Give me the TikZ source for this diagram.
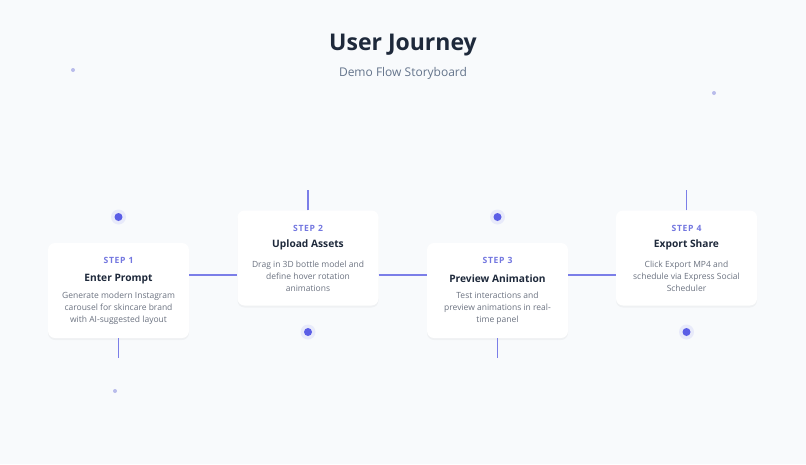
\documentclass[tikz,border=0pt]{standalone}
\usepackage{fontspec}
\setmainfont{Open Sans}
\usetikzlibrary{positioning,shadows}
\definecolor{pagebg}{HTML}{F8FAFC}
\definecolor{inkdark}{HTML}{1E293B}
\definecolor{inkgray}{HTML}{6B7280}
\definecolor{subgray}{HTML}{64748B}
\definecolor{accent}{HTML}{6366F1}
\definecolor{steptxt}{HTML}{7377E0}
\definecolor{linecol}{HTML}{7B7EE8}
\definecolor{dotcol}{HTML}{5B5EE6}
\definecolor{faintdot}{HTML}{B9BCEB}

\begin{document}
\begin{tikzpicture}[x=1pt,y=-1pt,
  card/.style = {draw=none,fill=white,rounded corners=7pt,minimum width=141pt,
    minimum height=95pt,inner sep=0pt,
    drop shadow={opacity=0.07,shadow xshift=0pt,shadow yshift=-2pt}},
  steplbl/.style = {text=steptxt,font=\fontsize{8.6}{10}\selectfont\bfseries\addfontfeature{LetterSpace=8}},
  cardttl/.style = {text=inkdark,font=\fontsize{10.2}{12}\selectfont\bfseries},
  carddesc/.style = {text=inkgray,align=center,font=\fontsize{8.5}{12}\selectfont},
  link/.style = {draw=linecol,line width=1.6pt},
  dot/.style = {circle,fill=dotcol,minimum size=8pt,inner sep=0pt},
  glow/.style = {circle,fill=accent,opacity=0.10,minimum size=15pt,inner sep=0pt},
  speck/.style = {circle,fill=faintdot,minimum size=4pt,inner sep=0pt}]
  \useasboundingbox[fill=pagebg] (0,0) rectangle (806,464);

  % heading
  \node[text=inkdark,font=\fontsize{23}{27}\selectfont\bfseries] (title) at (403,45) {User Journey};
  \node[text=subgray,font=\fontsize{12}{14}\selectfont] (subtitle) at (403,73) {Demo Flow Storyboard};

  % background specks
  \node[speck] (s1) at (73,70) {};
  \node[speck] (s2) at (714,93) {};
  \node[speck] (s3) at (115,391) {};

  % cards
  \node[card] (c1) at (118.5,290.5) {};
  \node[card] (c2) at (308,258) {};
  \node[card] (c3) at (497.5,290.5) {};
  \node[card] (c4) at (686.5,258) {};

  % connectors between the cards
  \coordinate (mid) at (0,275);
  \draw[link] (c1.east |- mid) -- (c2.west |- mid);
  \draw[link] (c2.east |- mid) -- (c3.west |- mid);
  \draw[link] (c3.east |- mid) -- (c4.west |- mid);

  % stubs
  \coordinate (t1) at ([yshift=-20pt]c1.south);
  \coordinate (t2) at ([yshift=20pt]c2.north);
  \coordinate (t3) at ([yshift=-20pt]c3.south);
  \coordinate (t4) at ([yshift=20pt]c4.north);
  \draw[link] (c1.south) -- (t1);
  \draw[link] (c2.north) -- (t2);
  \draw[link] (c3.south) -- (t3);
  \draw[link] (c4.north) -- (t4);

  % dots
  \node[glow] at (118.5,217) {};
  \node[dot] (d1) at (118.5,217) {};
  \node[glow] at (308,332) {};
  \node[dot] (d2) at (308,332) {};
  \node[glow] at (497.5,217) {};
  \node[dot] (d3) at (497.5,217) {};
  \node[glow] at (686.5,332) {};
  \node[dot] (d4) at (686.5,332) {};

  % card texts
  \node[steplbl] (k1) at ([yshift=-18pt]c1.north) {STEP 1};
  \node[cardttl] (h1) at ([yshift=-36pt]c1.north) {Enter Prompt};
  \node[carddesc] (p1) at ([yshift=-65pt]c1.north) {Generate modern Instagram\\carousel for skincare brand\\with AI-suggested layout};

  \node[steplbl] (k2) at ([yshift=-18pt]c2.north) {STEP 2};
  \node[cardttl] (h2) at ([yshift=-35pt]c2.north) {Upload Assets};
  \node[carddesc] (p2) at ([yshift=-66pt]c2.north) {Drag in 3D bottle model and\\define hover rotation\\animations};

  \node[steplbl] (k3) at ([yshift=-18pt]c3.north) {STEP 3};
  \node[cardttl] (h3) at ([yshift=-36pt]c3.north) {Preview Animation};
  \node[carddesc] (p3) at ([yshift=-65pt]c3.north) {Test interactions and\\preview animations in real-\\time panel};

  \node[steplbl] (k4) at ([yshift=-18pt]c4.north) {STEP 4};
  \node[cardttl] (h4) at ([yshift=-35pt]c4.north) {Export Share};
  \node[carddesc] (p4) at ([yshift=-66pt]c4.north) {Click Export MP4 and\\schedule via Express Social\\Scheduler};
\end{tikzpicture}
\end{document}
